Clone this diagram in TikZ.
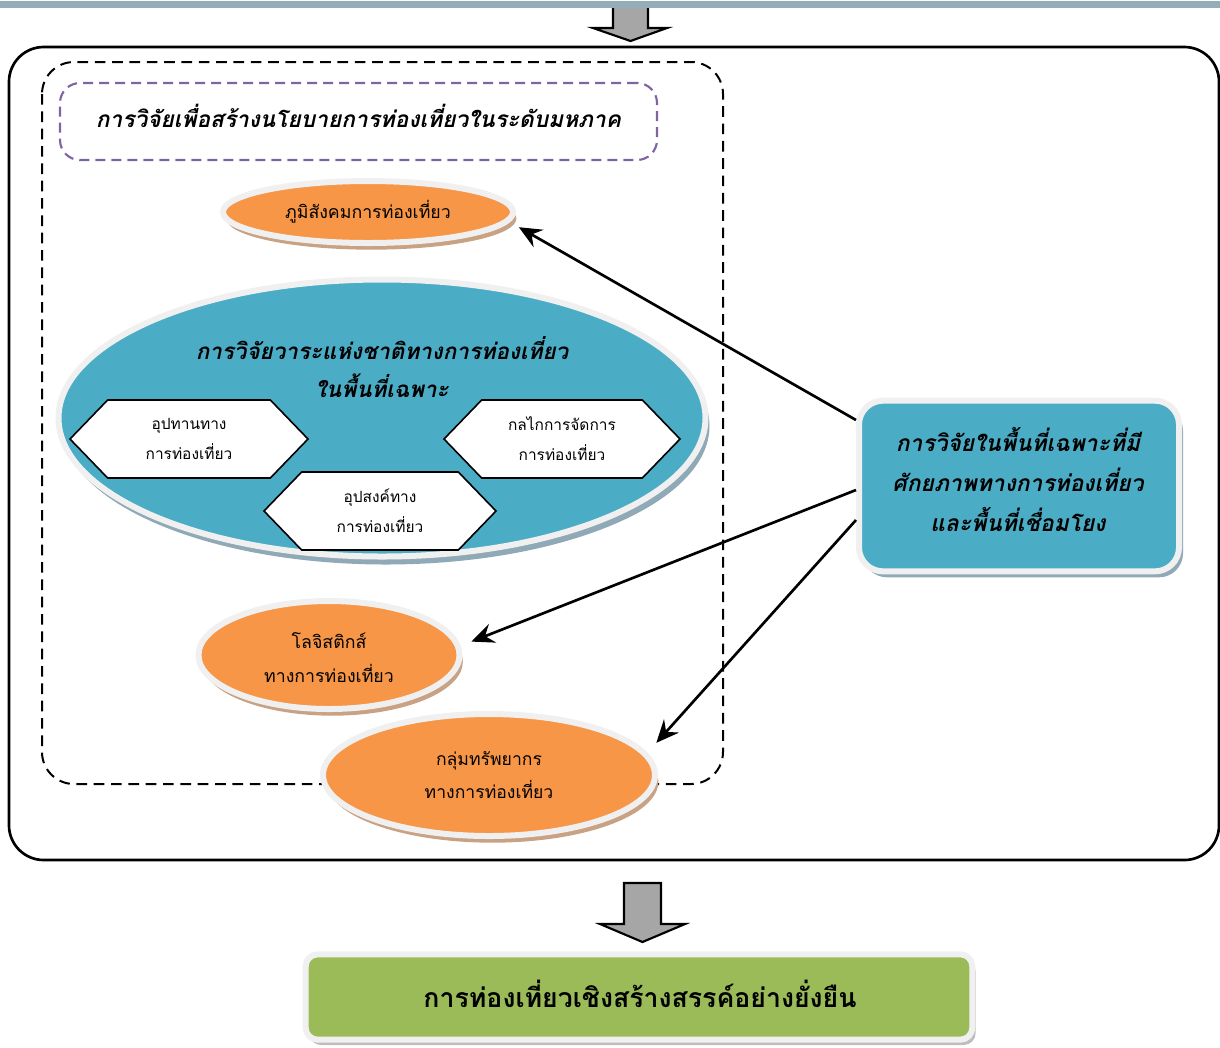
\documentclass[tikz,border=0pt]{standalone}
\usepackage{fontspec}
\setmainfont{Loma}[Script=Thai]
\usetikzlibrary{shapes.geometric,shapes.symbols,shadows,arrows.meta,calc}
\definecolor{orng}{HTML}{F79646}
\definecolor{blu}{HTML}{4BACC6}
\definecolor{grn}{HTML}{9BBB59}
\definecolor{ringgray}{HTML}{F0F0F0}
\definecolor{brownsh}{HTML}{C9A183}
\definecolor{bluesh}{HTML}{8FA9B6}
\definecolor{graysh}{HTML}{BDBDBD}
\definecolor{purp}{HTML}{8064A2}
\definecolor{band}{HTML}{93ADB9}
\definecolor{arrgray}{HTML}{A6A6A6}
\begin{document}
\begin{tikzpicture}[x=0.75pt,y=-0.75pt,
  ring/.style={draw=ringgray, line width=4.5pt},
  oval/.style={ellipse, ring, fill=orng, inner sep=0pt, align=center,
    drop shadow={shadow xshift=2.5pt, shadow yshift=-5pt, fill=brownsh, opacity=1}},
  bigoval/.style={ellipse, ring, fill=blu, inner sep=0pt, align=center,
    drop shadow={shadow xshift=3pt, shadow yshift=-6pt, fill=bluesh, opacity=1}},
  hexa/.style={signal, signal to=east and west, signal pointer angle=92,
    draw=black, line width=1.2pt, fill=white, inner sep=0pt, align=center,
    font=\fontsize{11.6pt}{22.5pt}\selectfont},
  conn/.style={line width=2pt, -{Stealth[length=17pt,width=15pt,inset=6pt]}},
  blockarr/.style={draw=black, line width=1.6pt, fill=arrgray, line join=miter},
  bigtext/.style={align=center, inner sep=0pt, font=\fontsize{#1}{30pt}\selectfont\bfseries\itshape}
]
\useasboundingbox (0,0) rectangle (1220,1047);

% top band and arrow
\draw[blockarr] (613,3) -- (648,3) -- (648,28) -- (667,28) -- (630.5,41) -- (593,28) -- (613,28) -- cycle;
\fill[band] (0,1) rectangle (1220,7.5);

% outer frame
\draw[line width=2pt, rounded corners=26pt] (9,47) rectangle (1219,860);
% dashed frame
\draw[line width=1.5pt, dash pattern=on 8pt off 5pt, rounded corners=24pt] (42,62) rectangle (723,784);

% macro title
\node[draw=purp, line width=1.6pt, dash pattern=on 7.5pt off 4.5pt, rounded corners=15pt,
  minimum width=447.75pt, minimum height=57.75pt, inner sep=0pt] (mac) at (358.5,121.5) {};
\node[bigtext=17pt] (mact) at (358.5,116)
  {การวิจัยเพื่อสร้างนโยบายการท่องเที่ยวในระดับมหภาค};

% socio-geography ellipse
\node[oval, minimum width=217.5pt, minimum height=46.5pt,
  font=\fontsize{13.3pt}{20pt}\selectfont] (e1) at (368,212) {ภูมิสังคมการท่องเที่ยว};

% big ellipse
\node[bigoval, minimum width=485.25pt, minimum height=207.75pt] (big) at (382,418) {};
\node[align=center, inner sep=0pt, font=\fontsize{16.8pt}{28.5pt}\selectfont\bfseries\itshape] (bigt) at (382,367)
  {การวิจัยวาระแห่งชาติทางการท่องเที่ยว\\ในพื้นที่เฉพาะ};

% hexagons
\node[hexa, minimum width=178.5pt, minimum height=58.5pt] (h1) at (189,439) {อุปทานทาง\\การท่องเที่ยว};
\node[hexa, minimum width=177pt, minimum height=58.5pt] (h2) at (562,439) {กลไกการจัดการ\\การท่องเที่ยว};
\node[hexa, minimum width=174pt, minimum height=58.5pt] (h3) at (380,511) {อุปสงค์ทาง\\การท่องเที่ยว};

% logistics ellipse
\node[oval, minimum width=195.75pt, minimum height=81pt] (e2) at (329,655) {};
\node[align=center, inner sep=0pt, font=\fontsize{13.3pt}{25.5pt}\selectfont] (e2t) at (329,658)
  {โลจิสติกส์\\ทางการท่องเที่ยว};
% resources ellipse
\node[oval, minimum width=249pt, minimum height=91.5pt,
  font=\fontsize{13.2pt}{25pt}\selectfont] (e3) at (489,775) {กลุ่มทรัพยากร\\ทางการท่องเที่ยว};

% right box
\node[ring, fill=blu, rounded corners=18pt, minimum width=240pt, minimum height=128pt,
  inner sep=0pt,
  drop shadow={shadow xshift=3pt, shadow yshift=-4.5pt, fill=bluesh, opacity=1}] (rb) at (1019,486) {};
\node[bigtext=17.1pt] (rbt) at (1018,479)
  {การวิจัยในพื้นที่เฉพาะที่มี\\ศักยภาพทางการท่องเที่ยว\\และพื้นที่เชื่อมโยง};

% connectors
\coordinate (s1) at ($(rb.west)+(0,-66)$);
\coordinate (s2) at ($(rb.west)+(0,4)$);
\coordinate (s3) at ($(rb.west)+(0,34)$);
\draw[conn, shorten >=8pt] (s1) -- (e1.-4);
\draw[conn, shorten >=8.6pt] (s2) -- (e2.4.4);
\draw[conn, shorten >=10pt] (s3) -- (e3.8.5);

% bottom arrow
\draw[blockarr] (624,883) -- (661,883) -- (661,924) -- (685,924) -- (642.5,942) -- (600,924) -- (624,924) -- cycle;

% green box
\node[ring, fill=grn, rounded corners=9pt, minimum width=500pt, minimum height=64pt,
  inner sep=0pt,
  drop shadow={shadow xshift=2.5pt, shadow yshift=-4pt, fill=graysh, opacity=1}] (gb) at (639,997) {};
\node[align=center, inner sep=0pt, font=\fontsize{20pt}{24pt}\selectfont\bfseries] (gbt) at (640,994)
  {การท่องเที่ยวเชิงสร้างสรรค์อย่างยั่งยืน};
\end{tikzpicture}
\end{document}
